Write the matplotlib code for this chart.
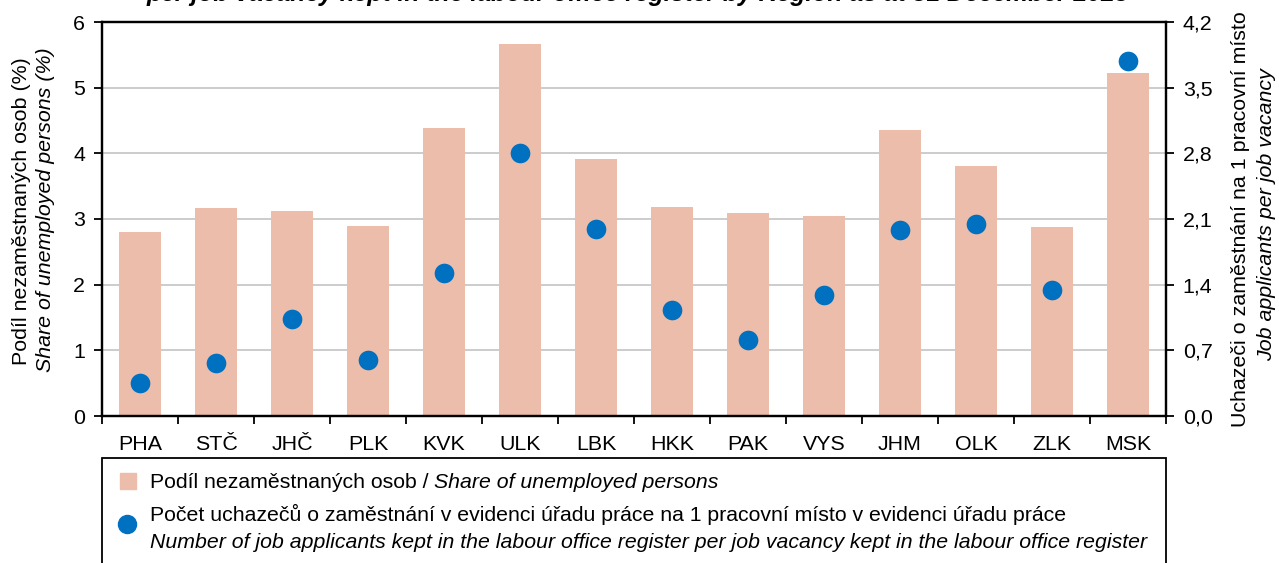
import matplotlib
matplotlib.use("Agg")
import matplotlib.pyplot as plt
from matplotlib.patches import Rectangle
from matplotlib.lines import Line2D
import numpy as np

regions = ["PHA", "STČ", "JHČ", "PLK", "KVK", "ULK", "LBK", "HKK", "PAK", "VYS", "JHM", "OLK", "ZLK", "MSK"]
share_unemployed = [2.80, 3.17, 3.12, 2.89, 4.38, 5.66, 3.92, 3.18, 3.09, 3.05, 4.36, 3.81, 2.88, 5.23]
applicants_per_vacancy = [0.35, 0.57, 1.03, 0.60, 1.52, 2.80, 1.99, 1.13, 0.81, 1.29, 1.98, 2.05, 1.34, 3.78]
left_ticks = [0, 1, 2, 3, 4, 5, 6]
right_ticks = [0.0, 0.7, 1.4, 2.1, 2.8, 3.5, 4.2]
right_ticklabels = ["0,0", "0,7", "1,4", "2,1", "2,8", "3,5", "4,2"]

bar_color = "#EBBDAA"
dot_color = "#0070C0"
FONT = "Liberation Sans"
plt.rcParams['font.family'] = [FONT, 'DejaVu Sans']
FS = 15.4
LFS = 15.3

W, H = 1279, 563
fig = plt.figure(figsize=(W / 100, H / 100), dpi=100)

def fx(px):
    return px / W

def fy(py):
    return 1 - py / H

ax = fig.add_axes([fx(102), fy(416), fx(1166) - fx(102), fy(22) - fy(416)])
x = np.arange(len(regions))
ax.bar(x, share_unemployed, width=0.56, color=bar_color, zorder=2)
ax.set_xlim(-0.5, len(regions) - 0.5)
ax.set_ylim(0, 6)
ax.set_yticks(left_ticks)
ax.yaxis.grid(True, color="#C8C8C8", linewidth=1.3, zorder=0)
ax.set_axisbelow(True)
ax.set_xticks(x)
ax.set_xticklabels(regions)
ax.set_xticks(np.arange(-0.5, len(regions), 1.0), minor=True)
ax.tick_params(axis='x', which='major', length=0, pad=14, labelsize=FS)
ax.tick_params(axis='x', which='minor', length=6, width=1.3, direction='out')
ax.tick_params(axis='y', length=6, width=1.3, direction='out', labelsize=FS, pad=6)
for s in ax.spines.values():
    s.set_linewidth(1.6)
    s.set_color("black")

ax2 = ax.twinx()
ax2.scatter(x, applicants_per_vacancy, s=200, color=dot_color, zorder=5, linewidths=0)
ax2.set_ylim(0, 4.2)
ax2.set_yticks(right_ticks)
ax2.set_yticklabels(right_ticklabels)
ax2.tick_params(axis='y', length=6, width=1.3, direction='out', labelsize=FS, pad=6)
for s in ax2.spines.values():
    s.set_linewidth(1.6)
    s.set_color("black")

# axis titles
fig.text(fx(22), fy(211), "Podíl nezaměstnaných osob (%)", rotation=90, ha='center', va='center', fontsize=FS)
fig.text(fx(46), fy(210), "Share of unemployed persons (%)", rotation=90, ha='center', va='center', fontsize=FS, style='italic')
fig.text(fx(1241), fy(219), "Uchazeči o zaměstnání na 1 pracovní místo", rotation=90, ha='center', va='center', fontsize=FS)
fig.text(fx(1267), fy(215), "Job applicants per job vacancy", rotation=90, ha='center', va='center', fontsize=FS, style='italic')

# title (cut at top, as in the reference)
fig.text(fx(638), fy(0.5), "per job vacancy kept in the labour office register by Region as at 31 December 2023",
         ha='center', va='baseline', fontsize=17.8, style='italic', weight='bold')

# legend box
fig.patches.append(Rectangle((fx(102), -0.05), fx(1166) - fx(102), fy(458) + 0.05,
                             transform=fig.transFigure, fill=False, edgecolor='black', linewidth=1.3))
fig.lines.append(Line2D([fx(128)], [fy(481)], transform=fig.transFigure, marker='s', markersize=11.5,
                        color=bar_color, linestyle='none'))
fig.lines.append(Line2D([fx(127)], [fy(524)], transform=fig.transFigure, marker='o', markersize=13,
                        color=dot_color, linestyle='none'))

fig.canvas.draw()
r = fig.canvas.get_renderer()
t1 = fig.text(fx(150), fy(482), "Podíl nezaměstnaných osob / ", ha='left', va='center', fontsize=LFS)
bb = t1.get_window_extent(renderer=r)
fig.text(bb.x1 / W, fy(482), "Share of unemployed persons", ha='left', va='center', fontsize=LFS, style='italic')
fig.text(fx(150), fy(514), "Počet uchazečů o zaměstnání v evidenci úřadu práce na 1 pracovní místo v evidenci úřadu práce",
         ha='left', va='center', fontsize=LFS)
fig.text(fx(150), fy(543), "Number of job applicants kept in the labour office register per job vacancy kept in the labour office register",
         ha='left', va='center', fontsize=LFS, style='italic')

fig.savefig("out.png", dpi=100)
